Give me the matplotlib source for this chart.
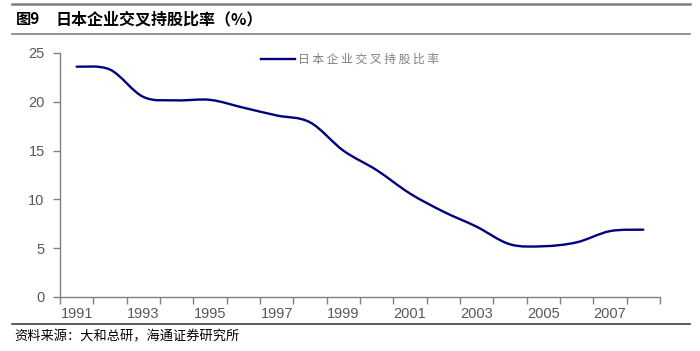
import matplotlib
matplotlib.use("Agg")
import matplotlib.pyplot as plt
from matplotlib.path import Path
from matplotlib.patches import PathPatch
from matplotlib.lines import Line2D
import numpy as np

plt.rcParams['font.family'] = ['Liberation Sans', 'Noto Sans CJK SC', 'DejaVu Sans']

# data
years = list(range(1991, 2009))
ratio = [23.6, 23.3, 20.5, 20.15, 20.2, 19.4, 18.6, 17.9, 15.0, 13.0,
         10.6, 8.75, 7.2, 5.4, 5.2, 5.6, 6.75, 6.9]
tick_labels = [str(y) for y in years[::2]]

fig_no = '图9'
title = '日本企业交叉持股比率（%）'
series_name = '日本企业交叉持股比率'
source = '资料来源：大和总研，海通证券研究所'

line_color = '#000080'
grey = '#595959'


def smooth_path(xs, ys, t=1 / 6):
    """Catmull-Rom style bezier path through the points (like Excel smoothed line)."""
    pts = np.column_stack([xs, ys]).astype(float)
    verts = [pts[0]]
    codes = [Path.MOVETO]
    n = len(pts)
    for i in range(n - 1):
        p0 = pts[i - 1] if i > 0 else pts[i]
        p1 = pts[i]
        p2 = pts[i + 1]
        p3 = pts[i + 2] if i + 2 < n else pts[i + 1]
        c1 = p1 + (p2 - p0) * t
        c2 = p2 - (p3 - p1) * t
        verts += [c1, c2, p2]
        codes += [Path.CURVE4] * 3
    return Path(verts, codes)


fig = plt.figure(figsize=(7, 3.51), dpi=100)
ax = fig.add_axes([60 / 700, 54 / 351, 600 / 700, 244 / 351])

x = np.arange(len(years))
ax.add_patch(PathPatch(smooth_path(x, ratio), facecolor='none',
                       edgecolor=line_color, lw=1.7, capstyle='round'))

ax.set_xlim(-0.5, len(years) - 0.5)
ax.set_ylim(0, 25)
ax.set_yticks(range(0, 26, 5))
ax.set_xticks(np.arange(-0.5, len(years), 1))
ax.set_xticklabels([])
ax.set_xticks(x[::2], minor=True)
ax.set_xticklabels(tick_labels, minor=True)
ax.tick_params(axis='x', which='major', direction='out', length=5, color='#808080', width=1)
ax.tick_params(axis='x', which='minor', length=0, pad=7, labelsize=10.5, labelcolor=grey)
ax.tick_params(axis='y', direction='out', length=5, color='#808080', width=1,
               labelsize=10.5, labelcolor=grey, pad=6)
for s in ['top', 'right']:
    ax.spines[s].set_visible(False)
for s in ['left', 'bottom']:
    ax.spines[s].set_color('#808080')
    ax.spines[s].set_linewidth(1)

# legend
fig.add_artist(Line2D([261 / 700, 295 / 700], [1 - 59 / 351, 1 - 59 / 351],
                      color=line_color, lw=1.7))
fig.text(298 / 700, 1 - 59 / 351, ' '.join(series_name),
         fontsize=8.5, color='#7f7f7f', va='center', ha='left',
         family=['Noto Sans CJK SC'])

# title block
fig.add_artist(Line2D([12 / 700, 690 / 700], [1 - 4 / 351, 1 - 4 / 351], color='#7f7f7f', lw=1.8))
fig.add_artist(Line2D([12 / 700, 690 / 700], [1 - 34 / 351, 1 - 34 / 351], color='#7f7f7f', lw=1.2))
fig.text(16 / 700, 1 - 19 / 351, fig_no, fontsize=11, fontweight='bold',
         va='center', ha='left', family=['Noto Sans CJK SC'])
fig.text(55 / 700, 1 - 19 / 351, title, fontsize=11.5, fontweight='bold',
         va='center', ha='left', family=['Noto Sans CJK SC'])

fig.add_artist(Line2D([12 / 700, 690 / 700], [1 - 324 / 351, 1 - 324 / 351], color='#404040', lw=1.2))
fig.text(14 / 700, 1 - 337 / 351, source, fontsize=9.5, va='center', ha='left',
         family=['Noto Sans CJK SC'])

fig.savefig('out.png', dpi=100)
